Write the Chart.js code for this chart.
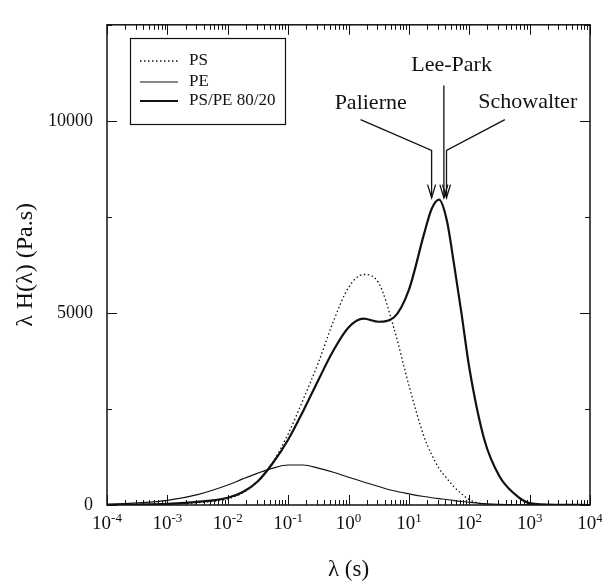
<!DOCTYPE html>
<html>
<head>
<meta charset="utf-8">
<script src="https://cdn.jsdelivr.net/npm/chart.js@4.4.0/dist/chart.umd.min.js"></script>
<style>
  html, body { margin: 0; padding: 0; background: #fff; }
  canvas { display: block; }
</style>
</head>
<body>
<canvas id="espectro" width="602" height="581"></canvas>
<script>
// relaxation time (s)
var lambdaS = [1e-4, 3.16e-4, 1e-3, 3.16e-3, 0.01, 0.0178, 0.0316, 0.0562, 0.1, 0.178, 0.316, 0.562,
  1, 1.78, 3.16, 5.62, 10, 17.8, 23.7, 31.6, 42.2, 56.2, 75, 100, 178, 316, 562, 1000, 3162, 10000];

// lambda H(lambda) in Pa.s
var psValues = [0, 5, 20, 60, 160, 320, 620, 1120, 1850, 2750, 3700, 4780,
  5660, 6000, 5780, 4620, 3120, 1780, 1320, 950, 700, 470, 290, 140, 20, 0, 0, 0, 0, 0];
var peValues = [20, 55, 120, 270, 520, 680, 830, 960, 1040, 1040, 960, 850,
  720, 600, 480, 370, 290, 220, 190, 165, 145, 115, 90, 70, 35, 18, 8, 4, 1, 0];
var blendValues = [5, 12, 30, 80, 190, 340, 620, 1100, 1700, 2450, 3250, 4020,
  4620, 4850, 4770, 4880, 5600, 7050, 7700, 7950, 7430, 6250, 4950, 3580, 1700, 750, 290, 50, 5, 0];

var seriesNames = ['PS', 'PE', 'PS/PE 80/20'];

// axis ticks: 10^exp on x, labelled values on y
var xTickValues = [1e-4, 1e-3, 1e-2, 1e-1, 1, 10, 100, 1000, 10000];
var xTickExp = ['-4', '-3', '-2', '-1', '0', '1', '2', '3', '4'];
var yLabelled = [0, 5000, 10000];

// model predictions (labels + arrows, in data coordinates)
var notas = ['Palierne', 'Lee-Park', 'Schowalter'];
var notaX = [2.33, 51, 930];
var notaY = [10460, 11450, 10480];
var flechas = [
  [[1.585, 10030], [23.8, 9230], [23.8, 8000]],
  [[38.0, 10920], [38.0, 8000]],
  [[389, 10030], [42.0, 9230], [42.0, 8000]]
];

var SERIF = "'Liberation Serif', 'Times New Roman', serif";
var INK = '#111';

function puntos(vals) {
  return vals.map(function (v, i) { return { x: lambdaS[i], y: v }; });
}

// marco, marcas hacia dentro, etiquetas 10^n, leyenda y flechas
var dibujoExtra = {
  id: 'dibujoExtra',
  afterDatasetsDraw: function (chart) {
    var ctx = chart.ctx, a = chart.chartArea;
    var sx = chart.scales.x, sy = chart.scales.y;
    ctx.save();
    ctx.strokeStyle = INK;
    ctx.fillStyle = INK;

    function seg(x1, y1, x2, y2) {
      ctx.beginPath(); ctx.moveTo(x1, y1); ctx.lineTo(x2, y2); ctx.stroke();
    }

    ctx.lineWidth = 1.5;
    ctx.strokeRect(a.left, a.top, a.right - a.left, a.bottom - a.top);

    ctx.lineWidth = 1;
    for (var e = -4; e <= 4; e++) {
      for (var k = 1; k <= 9; k++) {
        if (e === 4 && k > 1) break;
        var px = Math.round(sx.getPixelForValue(k * Math.pow(10, e))) + 0.5;
        var len = k === 1 ? 10 : 5;
        seg(px, a.bottom, px, a.bottom - len);
        seg(px, a.top, px, a.top + len);
      }
    }
    for (var v = 0; v <= 12500; v += 2500) {
      var py = Math.round(sy.getPixelForValue(v)) + 0.5;
      var l2 = v % 5000 === 0 ? 10 : 5;
      seg(a.left, py, a.left + l2, py);
      seg(a.right, py, a.right - l2, py);
    }

    // etiquetas del eje x con exponente
    ctx.textBaseline = 'alphabetic';
    ctx.textAlign = 'left';
    xTickValues.forEach(function (val, i) {
      var cx = sx.getPixelForValue(val);
      ctx.font = '19px ' + SERIF;
      var wb = ctx.measureText('10').width;
      ctx.font = '13px ' + SERIF;
      var we = ctx.measureText(xTickExp[i]).width;
      var x0 = cx - (wb + we) / 2;
      ctx.font = '19px ' + SERIF;
      ctx.fillText('10', x0, a.bottom + 24);
      ctx.font = '13px ' + SERIF;
      ctx.fillText(xTickExp[i], x0 + wb, a.bottom + 17);
    });

    // leyenda
    ctx.lineWidth = 1.2;
    ctx.strokeRect(130.5, 38.5, 155, 86);
    ctx.font = '17px ' + SERIF;
    ctx.textBaseline = 'middle';
    var filas = [61, 82, 101];
    chart.data.datasets.forEach(function (ds, i) {
      ctx.save();
      ctx.lineWidth = ds.borderWidth;
      ctx.setLineDash(ds.borderDash || []);
      seg(140, filas[i], 178, filas[i]);
      ctx.restore();
      ctx.fillText(ds.label, 189, filas[i]);
    });

    // flechas
    ctx.lineWidth = 1.3;
    flechas.forEach(function (f) {
      var pts = f.map(function (p) { return [sx.getPixelForValue(p[0]), sy.getPixelForValue(p[1])]; });
      ctx.beginPath();
      ctx.moveTo(pts[0][0], pts[0][1]);
      for (var j = 1; j < pts.length; j++) ctx.lineTo(pts[j][0], pts[j][1]);
      ctx.stroke();
      var tip = pts[pts.length - 1];
      ctx.beginPath();
      ctx.moveTo(tip[0] - 4, tip[1] - 13);
      ctx.lineTo(tip[0], tip[1]);
      ctx.lineTo(tip[0] + 4, tip[1] - 13);
      ctx.stroke();
    });

    ctx.font = '22px ' + SERIF;
    ctx.textAlign = 'center';
    notas.forEach(function (t, i) {
      ctx.fillText(t, sx.getPixelForValue(notaX[i]), sy.getPixelForValue(notaY[i]));
    });
    ctx.restore();
  }
};

var grafico = new Chart(document.getElementById('espectro').getContext('2d'), {
  type: 'line',
  data: {
    datasets: [
      {
        label: seriesNames[0],
        data: puntos(psValues),
        borderColor: INK,
        borderWidth: 1.3,
        borderDash: [1.5, 2.5]
      },
      {
        label: seriesNames[1],
        data: puntos(peValues),
        borderColor: INK,
        borderWidth: 1.1
      },
      {
        label: seriesNames[2],
        data: puntos(blendValues),
        borderColor: INK,
        borderWidth: 2.2
      }
    ]
  },
  options: {
    responsive: false,
    devicePixelRatio: 1,
    animation: false,
    layout: { padding: { left: 0, right: 12, top: 13, bottom: 0 } },
    elements: {
      point: { radius: 0 },
      line: { cubicInterpolationMode: 'monotone', fill: false }
    },
    plugins: {
      legend: { display: false },
      tooltip: { enabled: false }
    },
    scales: {
      x: {
        type: 'logarithmic',
        min: 1e-4,
        max: 1e4,
        grid: { display: false, drawTicks: false },
        border: { display: false },
        afterBuildTicks: function (scale) {
          scale.ticks = xTickValues.map(function (v) { return { value: v }; });
        },
        afterFit: function (scale) { scale.height = 76; },
        ticks: { display: false },
        title: {
          display: true,
          text: 'λ (s)',
          color: INK,
          font: { family: SERIF, size: 23, lineHeight: 1 },
          padding: { top: 0, bottom: 0 }
        }
      },
      y: {
        min: 0,
        max: 12500,
        grid: { display: false, drawTicks: false },
        border: { display: false },
        afterFit: function (scale) { scale.width = 107; },
        ticks: {
          stepSize: 2500,
          padding: 14,
          color: INK,
          font: { family: SERIF, size: 18 },
          callback: function (value) {
            return yLabelled.indexOf(value) >= 0 ? String(value) : '';
          }
        },
        title: {
          display: true,
          text: 'λ H(λ) (Pa.s)',
          color: INK,
          font: { family: SERIF, size: 24, lineHeight: 1 },
          padding: { top: 14, bottom: 0 }
        }
      }
    }
  },
  plugins: [dibujoExtra]
});
</script>
</body>
</html>
